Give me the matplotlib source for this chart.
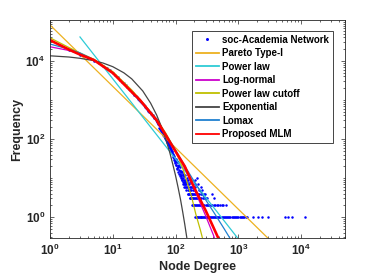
import numpy as np
import matplotlib
matplotlib.use("Agg")
import matplotlib.pyplot as plt
from matplotlib.ticker import LogLocator, NullFormatter

plt.rcParams['font.family'] = ['Liberation Sans', 'DejaVu Sans']
plt.rcParams['font.weight'] = 'bold'
plt.rcParams['mathtext.fontset'] = 'custom'
plt.rcParams['mathtext.bf'] = 'Liberation Sans:bold'
plt.rcParams['mathtext.rm'] = 'Liberation Sans:bold'

deg_head = list(range(1, 101))
freq_head = [34000, 19500, 14200, 11800, 10200, 9000, 7600, 6600, 5800, 4900,
             4300, 3800, 3300, 2950, 2650, 2380, 2150, 1930, 1750, 1600,
             1470, 1360, 1250, 1160, 1080, 1010, 950, 880, 820, 770,
             740, 690, 660, 620, 590, 560, 530, 500, 480, 460,
             440, 415, 400, 380, 365, 350, 335, 320, 305, 290,
             275, 258, 245, 230, 192, 182, 176, 168, 158, 152,
             147, 138, 134, 128, 120, 118, 112, 106, 104, 99,
             94, 91, 86, 83, 80, 77, 74, 70, 69, 66,
             62, 59, 58, 54, 53, 50, 48, 46, 44, 42,
             38, 35, 37, 32, 29, 33, 26, 24, 28, 22]
deg_mid = [101, 102, 103, 104, 105, 106, 107, 108, 109, 110, 111, 112, 113, 114,
           115, 116, 117, 118, 119, 120, 121, 122, 123, 124, 125, 126, 127, 128,
           129, 130, 131, 132, 133, 134, 135, 136, 137, 138, 139, 140, 141, 142,
           143, 144, 145, 146, 147, 148, 149, 150, 152, 153, 155, 156, 158, 160,
           162, 165, 167, 170, 172, 175, 179, 183, 188, 192, 197, 203, 207, 213,
           205, 218, 230, 240, 250, 265]
freq_mid = [30, 21, 27, 18, 25, 28, 17, 26, 20, 14, 19, 22, 13, 21,
            16, 11, 15, 19, 13, 10, 14, 12, 15, 11, 9, 10, 14, 9,
            12, 7, 8, 10, 13, 9, 7, 11, 8, 6, 7, 9, 6, 8,
            12, 7, 9, 6, 5, 8, 7, 10, 6, 8, 5, 7, 9, 6,
            5, 7, 6, 5, 8, 6, 5, 6, 5, 6, 5, 7, 6, 4,
            9, 10, 7, 5, 6, 5]
row4_deg = [157, 160, 163, 168, 172, 176, 181, 185, 190, 196, 203, 210, 218, 228, 238, 250, 262, 280, 294, 380]
row3_deg = [169, 172, 177, 182, 186, 191, 197, 204, 211, 219, 228, 237, 246, 258, 270, 285, 300, 316, 410]
row2_deg = [182, 187, 192, 198, 204, 211, 218, 226, 235, 244, 253, 263, 275, 288, 301, 315, 330,
            346, 364, 385, 405, 428, 452, 480, 510, 540, 570, 636]
row1_deg = [204, 210, 216, 222, 229, 236, 243, 251, 259, 268, 277, 287, 297, 307, 318, 330,
            342, 355, 368, 382, 397, 412, 428, 445, 462, 480, 499, 519, 540, 562, 585,
            609, 634, 660, 688, 717, 747, 779, 812, 846, 882, 920, 960, 1002, 1046,
            1092, 1140, 1190, 1250, 1310, 1370, 1700, 2040, 2380, 2950, 5500, 6100,
            7100, 11500]

# fitted models
pareto_x = [1, 4000]
pareto_y = [83000, 0.18]
power_x = [3, 1500]
power_y = [41000, 0.12]
lognorm_x = [1, 2, 3, 5, 10, 20, 30, 50, 70, 100, 150, 200, 300, 400, 450]
lognorm_y = [23000, 18500, 15000, 10500, 5000, 1700, 800, 300, 130, 48, 14, 5, 1.1, 0.35, 0.2]
cutoff_x = [1, 2, 3, 5, 10, 20, 30, 50, 70, 100, 130, 150, 180, 210, 250, 290]
cutoff_y = [39000, 22000, 16000, 11000, 5300, 1800, 850, 320, 140, 50, 18, 8.5, 3.3, 1.2, 0.45, 0.18]
expo_x = [1, 2, 3, 5, 7, 10, 15, 20, 30, 40, 50, 60, 70, 80, 90, 100, 110, 120, 130, 140, 150, 160]
expo_y = [13500, 12570, 11650, 10150, 8800, 7100, 4950, 3470, 1700, 830, 410, 200, 98, 48, 23,
          11.5, 5.6, 2.8, 1.35, 0.66, 0.32, 0.16]
lomax_x = [1, 2, 3, 5, 10, 20, 30, 50, 70, 100, 150, 200, 300, 400, 600, 800]
lomax_y = [27000, 20000, 16000, 10700, 4800, 1600, 780, 290, 130, 52, 17, 8, 2.8, 1.38, 0.49, 0.23]
mlm_x = [1, 2, 3, 5, 10, 20, 27, 50, 70, 100, 140, 200, 300, 400, 500]
mlm_y = [34000, 19500, 14500, 10500, 4900, 1600, 1000, 300, 125, 48, 20, 5.5, 1.5, 0.55, 0.25]

obs_x = deg_head + deg_mid + row4_deg + row3_deg + row2_deg + row1_deg
obs_y = (freq_head + freq_mid + [4] * len(row4_deg) + [3] * len(row3_deg)
         + [2] * len(row2_deg) + [1] * len(row1_deg))

fig = plt.figure(figsize=(3.82, 2.73), dpi=100)
ax = fig.add_axes([0.131, 0.128, 0.772, 0.799])

ax.plot(obs_x, obs_y, 'o', color='#0000FF', ms=1.8, mew=0, label='soc-Academia Network')
ax.plot(pareto_x, pareto_y, color='#EDB120', lw=0.9, label='Pareto Type-I')
ax.plot(power_x, power_y, color='#2ECBD6', lw=0.9, label='Power law')
ax.plot(lognorm_x, lognorm_y, color='#CC00CC', lw=0.9, label='Log-normal')
ax.plot(cutoff_x, cutoff_y, color='#BFBF00', lw=0.9, label='Power law cutoff')
ax.plot(expo_x, expo_y, color='#444444', lw=0.9, label='Exponential')
ax.plot(lomax_x, lomax_y, color='#2080D0', lw=0.9, label='Lomax')
ax.plot(mlm_x, mlm_y, color='#FF0000', lw=1.9, label='Proposed MLM')

ax.set_xscale('log')
ax.set_yscale('log')
ax.set_xlim(1, 5e4)
ax.set_ylim(0.29, 1.12e5)

ax.set_xticks([1, 10, 100, 1000, 10000])
ax.set_xticklabels([r'$\mathbf{10^{%d}}$' % k for k in range(5)])
ax.set_yticks([1, 100, 10000])
ax.set_yticklabels([r'$\mathbf{10^{%d}}$' % k for k in (0, 2, 4)])
ax.xaxis.set_minor_locator(LogLocator(base=10, subs=np.arange(1, 10), numticks=20))
ax.yaxis.set_minor_locator(LogLocator(base=10, subs=np.arange(1, 10), numticks=20))
ax.xaxis.set_minor_formatter(NullFormatter())
ax.yaxis.set_minor_formatter(NullFormatter())
ax.tick_params(which='both', direction='in', top=True, right=True, colors='#262626', labelsize=8.5)
ax.tick_params(which='major', length=3, width=0.5)
ax.tick_params(which='minor', length=1.6, width=0.5)
for s in ax.spines.values():
    s.set_linewidth(0.6)
    s.set_color('#262626')

ax.set_xlabel('Node Degree', fontsize=9, fontweight='bold', color='#262626', labelpad=2)
ax.set_ylabel('Frequency', fontsize=9, fontweight='bold', color='#262626', labelpad=2)

leg = ax.legend(loc='upper right', bbox_to_anchor=(0.975, 0.97), fontsize=7,
                handlelength=2.4, labelspacing=0.36, borderpad=0.35, handletextpad=0.35,
                fancybox=False, framealpha=1, markerscale=1.2)
leg.get_frame().set_edgecolor('#262626')
leg.get_frame().set_linewidth(0.6)
for t in leg.get_texts():
    t.set_fontweight('bold')
for h in leg.get_lines()[1:]:
    h.set_linewidth(1.3)

fig.savefig('out.png', dpi=100)
